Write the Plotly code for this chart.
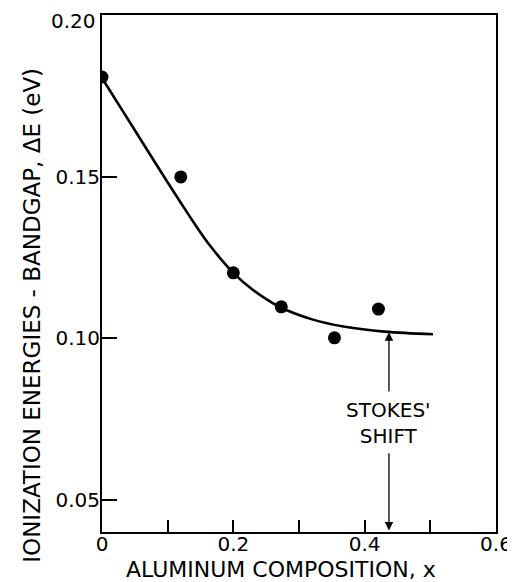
import plotly.graph_objects as go

# measured points
x_pts = [0.0, 0.12, 0.20, 0.273, 0.354, 0.421]
y_pts = [0.1808, 0.1499, 0.1202, 0.1097, 0.1001, 0.1090]

# fitted curve
x_fit = [0.0, 0.03, 0.06, 0.09, 0.12, 0.14, 0.165, 0.20, 0.23, 0.27, 0.32, 0.37, 0.43, 0.504]
y_fit = [0.1805, 0.1708, 0.1611, 0.1514, 0.1419, 0.1357, 0.1285, 0.1202, 0.1149, 0.1097, 0.1058, 0.1035, 0.1020, 0.1012]

x_tickvals = [0, 0.2, 0.4, 0.6]
x_ticktext = ["0", "0.2", "0.4", "0.6"]
x_minor = [0.1, 0.3, 0.5]
y_tickvals = [0.05, 0.10, 0.15, 0.20]
y_ticktext = ["0.05", "0.10", "0.15", "0.20"]

x_title = "ALUMINUM COMPOSITION, x"
y_title = "IONIZATION ENERGIES - BANDGAP, \u0394E (eV)"

stokes_x = 0.437
stokes_text_y = 0.0737
stokes_curve_y = 0.1018
stokes_up_tail = 0.0830
stokes_down_tail = 0.0648
stokes_base_y = 0.0405

FONT = "DejaVu Sans, Liberation Sans, sans-serif"

fig = go.Figure()
fig.add_trace(go.Scatter(x=x_fit, y=y_fit, mode="lines",
                         line=dict(color="black", width=2.6, shape="spline", smoothing=1.0),
                         hoverinfo="skip", showlegend=False))
fig.add_trace(go.Scatter(x=x_pts, y=y_pts, mode="markers", marker=dict(color="black", size=13),
                         showlegend=False))

# Stokes shift label and arrows
fig.add_annotation(x=stokes_x, y=stokes_text_y, xref="x", yref="y", text="STOKES'<br>SHIFT", showarrow=False,
                   font=dict(family=FONT, size=20, color="black"))
fig.add_annotation(x=stokes_x, y=stokes_curve_y, ax=stokes_x, ay=stokes_up_tail, xref="x", yref="y",
                   axref="x", ayref="y", text="", showarrow=True, arrowhead=2, arrowsize=1.3,
                   arrowwidth=1.3, arrowcolor="black")
fig.add_annotation(x=stokes_x, y=stokes_base_y, ax=stokes_x, ay=stokes_down_tail, xref="x", yref="y",
                   axref="x", ayref="y", text="", showarrow=True, arrowhead=2, arrowsize=1.3,
                   arrowwidth=1.3, arrowcolor="black")

# top tick label sits a little below the frame corner in the original
fig.add_annotation(x=-0.0127, y=y_tickvals[-1], xref="paper", yref="y", text=y_ticktext[-1], showarrow=False,
                   xanchor="right", yanchor="middle", yshift=-6, borderpad=0,
                   font=dict(family=FONT, size=20, color="black"))

# axis titles as annotations for exact placement
fig.add_annotation(x=0.454, y=-0.0735, xref="paper", yref="paper", text=x_title, showarrow=False,
                   xanchor="center", yanchor="middle", borderpad=0,
                   font=dict(family=FONT, size=22, color="black"))
fig.add_annotation(x=-0.178, y=0.42, xref="paper", yref="paper", text=y_title, showarrow=False,
                   textangle=-90, xanchor="center", yanchor="middle", font=dict(family=FONT, size=23, color="black"))

# the page body adds an 8px offset, so the figure is 8px smaller and margins are shifted
fig.update_layout(
    width=507, height=574,
    margin=dict(l=94, r=19, t=7, b=50),
    paper_bgcolor="white", plot_bgcolor="white",
    font=dict(family=FONT, color="black"),
)
fig.update_xaxes(
    range=[0, 0.6], tickvals=x_tickvals, ticktext=x_ticktext, automargin=False,
    ticks="inside", ticklen=12, tickwidth=1.8, tickcolor="black",
    minor=dict(tickvals=x_minor, ticks="inside", ticklen=12, tickwidth=1.8, tickcolor="black"),
    showline=True, linecolor="black", linewidth=2, mirror=True,
    showgrid=False, zeroline=False, ticklabelstandoff=-7, ticklabeloverflow="allow",
    tickfont=dict(size=20, family=FONT),
)
fig.update_yaxes(
    range=[0.04, 0.20], tickvals=y_tickvals, ticktext=y_ticktext[:-1] + [""], automargin=False,
    ticks="inside", ticklen=15, tickwidth=1.8, tickcolor="black",
    showline=True, linecolor="black", linewidth=2, mirror=True,
    showgrid=False, zeroline=False, ticklabelstandoff=-4, ticklabeloverflow="allow",
    tickfont=dict(size=20, family=FONT),
)

fig.write_html("out.html")
